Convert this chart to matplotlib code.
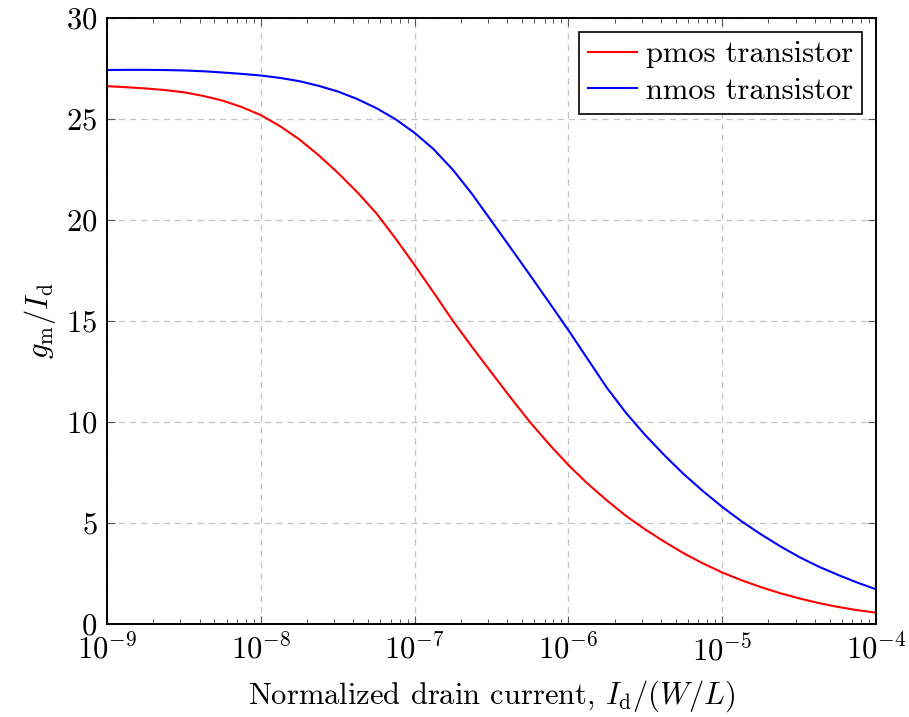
import numpy as np
import matplotlib
matplotlib.use("Agg")
from matplotlib import pyplot as plt
from matplotlib.ticker import LogLocator, NullFormatter

# Computer Modern look, like the pgfplots original
plt.rcParams['font.family'] = 'serif'
plt.rcParams['font.serif'] = ['cmr10']
plt.rcParams['mathtext.fontset'] = 'cm'
plt.rcParams['axes.unicode_minus'] = False
plt.rcParams['axes.formatter.use_mathtext'] = True

# Data (log10 of normalized drain current)
log_id = [-9.0, -8.875, -8.75, -8.625, -8.5, -8.375, -8.25, -8.125,
          -8.0, -7.875, -7.75, -7.625, -7.5, -7.375, -7.25, -7.125,
          -7.0, -6.875, -6.75, -6.625, -6.5, -6.375, -6.25, -6.125,
          -6.0, -5.875, -5.75, -5.625, -5.5, -5.375, -5.25, -5.125,
          -5.0, -4.875, -4.75, -4.625, -4.5, -4.375, -4.25, -4.125, -4.0]
gm_id_pmos = [26.63, 26.58, 26.52, 26.44, 26.33, 26.15, 25.92, 25.6,
              25.2, 24.65, 24.0, 23.22, 22.35, 21.4, 20.35, 19.1,
              17.77, 16.4, 15.0, 13.7, 12.45, 11.2, 10.0, 8.9,
              7.87, 6.95, 6.12, 5.35, 4.68, 4.07, 3.5, 3.0,
              2.55, 2.17, 1.83, 1.53, 1.27, 1.04, 0.85, 0.69, 0.56]
gm_id_nmos = [27.43, 27.44, 27.44, 27.43, 27.41, 27.37, 27.31, 27.24,
              27.16, 27.04, 26.88, 26.65, 26.37, 26.0, 25.55, 25.0,
              24.32, 23.5, 22.48, 21.28, 19.95, 18.62, 17.28, 15.92,
              14.55, 13.12, 11.7, 10.45, 9.35, 8.35, 7.42, 6.58,
              5.8, 5.09, 4.45, 3.86, 3.32, 2.85, 2.44, 2.06, 1.72]

id_wl = 10.0 ** np.array(log_id)

fig = plt.figure(figsize=(9.09, 7.17), dpi=100)
ax = fig.add_axes([0.1177, 0.1297, 0.846, 0.845])

ax.plot(id_wl, gm_id_pmos, color='red', lw=1.5, label='pmos transistor')
ax.plot(id_wl, gm_id_nmos, color='blue', lw=1.5, label='nmos transistor')

ax.set_xscale('log')
ax.set_xlim(1e-9, 1e-4)
ax.set_ylim(0, 30)
ax.set_yticks([0, 5, 10, 15, 20, 25, 30])
ax.xaxis.set_major_locator(LogLocator(base=10, numticks=20))
ax.xaxis.set_minor_locator(LogLocator(base=10, subs=np.arange(2, 10), numticks=20))
ax.xaxis.set_minor_formatter(NullFormatter())

# dashed grey grid
ax.grid(True, which='major', color='#c4c4c4', linestyle=(0, (5, 4)), lw=0.9)

# ticks pointing in, on all sides
ax.tick_params(which='both', direction='in', top=True, right=True, labelsize=22)
ax.tick_params(which='major', length=6, width=0.8, color='#555555', pad=7)
ax.tick_params(which='minor', length=3.5, width=0.7, color='#555555')
for s in ax.spines.values():
    s.set_linewidth(1.4)

ax.set_xlabel(r'Normalized drain current, $I_\mathrm{d}/(W/L)$', fontsize=22, labelpad=9)
ax.set_ylabel(r'$g_\mathrm{m}/I_\mathrm{d}$', fontsize=22, labelpad=6)

leg = ax.legend(loc='upper right', fontsize=22, fancybox=False, edgecolor='black',
                framealpha=1, handlelength=1.6, handletextpad=0.3,
                borderpad=0.3, labelspacing=0.3, borderaxespad=0.45)
leg.get_frame().set_linewidth(1.2)

fig.savefig('out.png', dpi=100)
